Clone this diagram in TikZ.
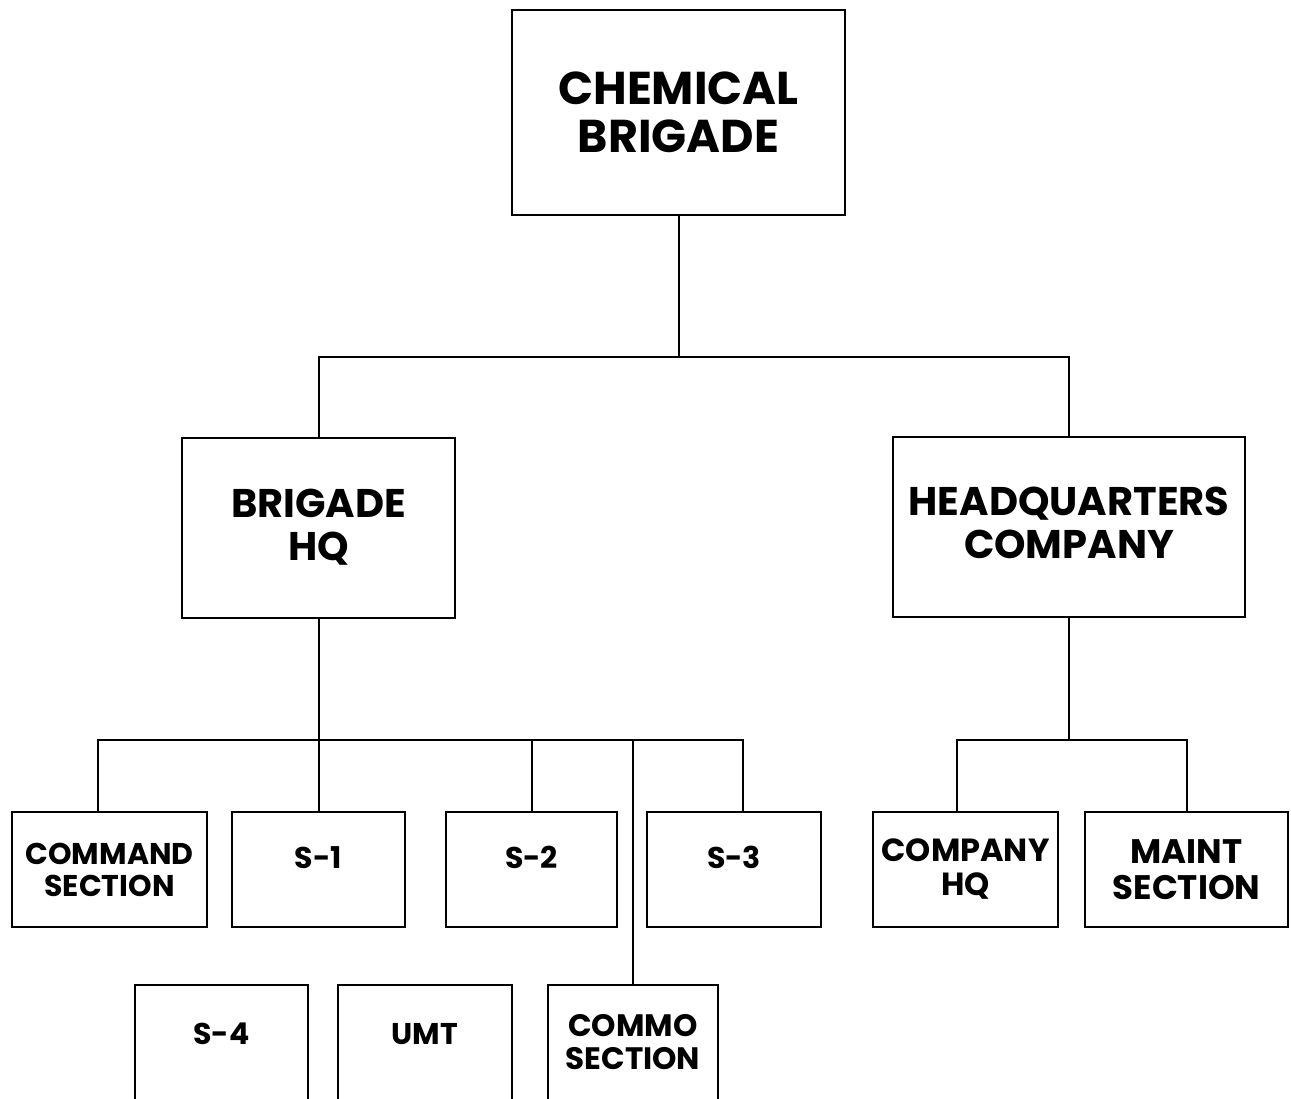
\documentclass[tikz,border=0pt]{standalone}
\usepackage{fontspec}
\setmainfont{Poppins}
\usetikzlibrary{calc}

\begin{document}
\begin{tikzpicture}[
  x=1pt, y=-1pt,
  box/.style={
    draw=black,
    line width=2pt,
    align=center,
    inner sep=0pt,
    font=\bfseries\fontsize{30}{32}\selectfont
  },
  topbox/.style={box, minimum width=333pt, minimum height=205pt,
    font=\bfseries\fontsize{46}{48}\selectfont},
  midbox/.style={box, minimum height=180pt,
    font=\bfseries\fontsize{40}{43}\selectfont},
  lowbox/.style={box, minimum height=115pt},
  link/.style={line width=2pt},
]

\useasboundingbox (0,0) rectangle (1291,1099);
\clip (0,0) rectangle (1291,1099);

% Brigade.
\node[topbox] (chem) at (678.5,112.5) {CHEMICAL\\BRIGADE};

% Second level.
\node[midbox, minimum width=273pt] (brighq) at (318.5,527.5) {BRIGADE\\HQ};
\node[midbox, minimum width=352pt, text depth=8pt] (hqco) at (1069,527) {HEADQUARTERS\\COMPANY};

% Brigade HQ sections.
\node[lowbox, minimum width=195pt] (cmd) at (109.5,869.5) {COMMAND\\SECTION};
\node[lowbox, minimum width=173pt, text depth=24pt] (sone) at (318.5,869.5) {S-1};
\node[lowbox, minimum width=171pt, text depth=24pt] (stwo) at (531.5,869.5) {S-2};
\node[lowbox, minimum width=174pt, text depth=24pt] (sthree) at (734,869.5) {S-3};
\node[lowbox, minimum width=173pt, text depth=18pt] (sfour) at (221.5,1042.5) {S-4};
\node[lowbox, minimum width=174pt, text depth=18pt] (umt) at (425,1042.5) {UMT};
\node[lowbox, minimum width=170pt, font=\bfseries\fontsize{31}{33}\selectfont] (commo) at (633,1042.5) {COMMO\\SECTION};

% Company sections.
\node[lowbox, minimum width=185pt, font=\bfseries\fontsize{32}{34}\selectfont] (cohq) at (965.5,869.5) {COMPANY\\HQ};
\node[lowbox, minimum width=203pt, font=\bfseries\fontsize{34}{36}\selectfont] (maint) at (1186.5,869.5) {MAINT\\SECTION};

% Bus lines.
\coordinate (topbus) at (chem.south |- 0,357);
\coordinate (hqbus) at (brighq.south |- 0,740);
\coordinate (cobus) at (hqco.south |- 0,740);

\draw[link] (chem.south) -- (topbus);
\draw[link] (brighq.north) |- (topbus) -| (hqco.north);

\draw[link] (brighq.south) -- (sone.north);
\draw[link] ([xshift=-12pt]cmd.north) |- (hqbus) -| ([xshift=9pt]sthree.north);
\draw[link] (stwo.north) -- (stwo.north |- hqbus);
\draw[link] (commo.north) -- (commo.north |- hqbus);

\draw[link] (hqco.south) -- (cobus);
\draw[link] ([xshift=-9pt]cohq.north) |- (cobus) -| (maint.north);

\end{tikzpicture}
\end{document}
